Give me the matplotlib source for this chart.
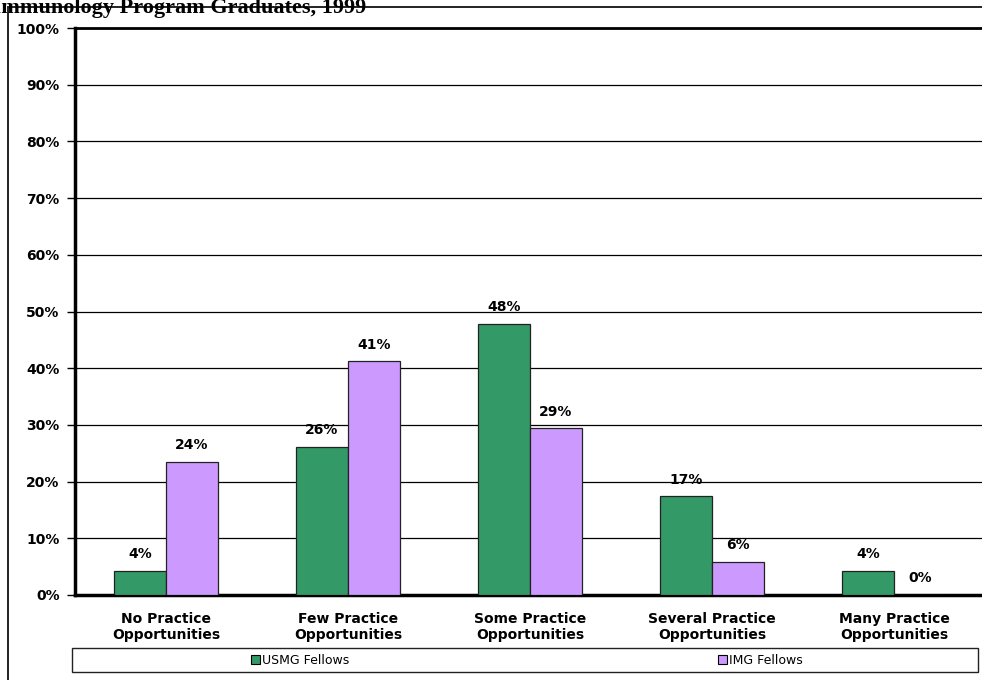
import matplotlib
matplotlib.use("Agg")
import matplotlib.pyplot as plt
from matplotlib.patches import Rectangle, Patch
import numpy as np

categories = ["No Practice\nOpportunities", "Few Practice\nOpportunities",
              "Some Practice\nOpportunities", "Several Practice\nOpportunities",
              "Many Practice\nOpportunities"]
usmg = [4.3, 26.1, 47.8, 17.4, 4.3]
img = [23.5, 41.2, 29.4, 5.9, 0.0]
series_names = ["USMG Fellows", "IMG Fellows"]
yticks = [0, 10, 20, 30, 40, 50, 60, 70, 80, 90, 100]
title = "Allergy and Immunology Program Graduates, 1999"

W, H = 982, 680
fig = plt.figure(figsize=(W / 100, H / 100), dpi=100)

def fx(px):
    return px / W

def fy(py):
    return 1 - py / H

# outer chart border (cropped)
fig.patches.append(Rectangle((fx(8), fy(720)), fx(1100), fy(7) - fy(720),
                             transform=fig.transFigure, fill=False,
                             edgecolor="#222222", linewidth=1.4, zorder=0))

# title (cropped at top-left, as in the reference)
fig.text(fx(366), fy(13), title, ha="right", va="baseline",
         family="Liberation Serif", fontweight="bold", fontsize=16)

ax = fig.add_axes([fx(75), fy(595), fx(985 - 75), fy(28) - fy(595)])
x = np.arange(len(categories))
bw = 0.286
green = "#339966"
purple = "#CC99FF"
b1 = ax.bar(x - bw / 2, usmg, bw, color=green, edgecolor="#222222", linewidth=0.9, zorder=3)
b2 = ax.bar(x + bw / 2, img, bw, color=purple, edgecolor="#222222", linewidth=0.9, zorder=3)

for bars, vals in ((b1, usmg), (b2, img)):
    for rect, v in zip(bars, vals):
        ax.annotate(f"{v:.0f}%", (rect.get_x() + rect.get_width() / 2, v),
                    xytext=(0, 7), textcoords="offset points", ha="center",
                    va="bottom", fontsize=10, fontweight="bold", zorder=4)

ax.set_xlim(-0.5, len(categories) - 0.5)
ax.set_ylim(0, 100)
ax.set_yticks(yticks)
ax.set_yticklabels([f"{t}%" for t in yticks], fontsize=10, fontweight="bold")
ax.set_xticks(x)
ax.set_xticklabels(categories, fontsize=10, fontweight="bold")
ax.tick_params(axis="x", length=0, pad=12)
ax.tick_params(axis="y", length=6, width=1, direction="out", pad=5)
ax.grid(axis="y", color="black", linewidth=0.9, zorder=1)
ax.set_axisbelow(True)
for s in ("left", "bottom"):
    ax.spines[s].set_linewidth(2.5)
ax.spines["top"].set_linewidth(2.0)
ax.spines["right"].set_visible(False)

# legend box
fig.patches.append(Rectangle((fx(72), fy(672)), fx(978 - 72), fy(648) - fy(672),
                             transform=fig.transFigure, fill=False,
                             edgecolor="#222222", linewidth=1.0))
handles = [Patch(facecolor=green, edgecolor="black", linewidth=0.8),
           Patch(facecolor=purple, edgecolor="black", linewidth=0.8)]
fig.legend(handles, series_names, loc="center", bbox_to_anchor=(fx(527), fy(660)),
           ncol=2, frameon=False, fontsize=9, handlelength=0.7, handleheight=0.7,
           handletextpad=0.2, columnspacing=29.5, borderpad=0)

fig.savefig("out.png", dpi=100)
